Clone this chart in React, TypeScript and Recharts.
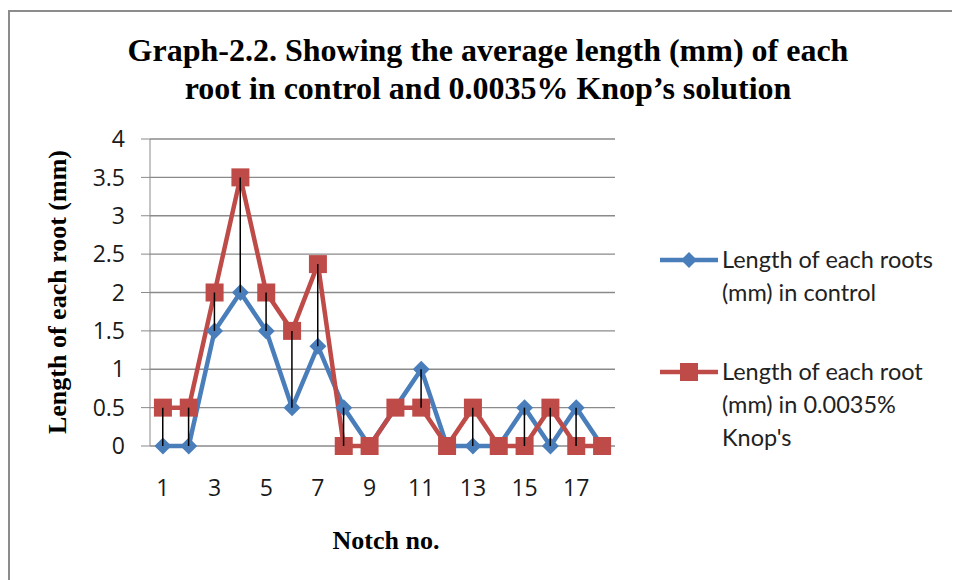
import { ComposedChart, Line, Bar, XAxis, YAxis, CartesianGrid } from "recharts";

const notches = ["1", "2", "3", "4", "5", "6", "7", "8", "9", "10", "11", "12", "13", "14", "15", "16", "17", "18"];
const controlLength = [0, 0, 1.5, 2, 1.5, 0.5, 1.3, 0.5, 0, 0.5, 1, 0, 0, 0, 0.5, 0, 0.5, 0];
const knopLength = [0.5, 0.5, 2, 3.5, 2, 1.5, 2.37, 0, 0, 0.5, 0.5, 0, 0.5, 0, 0, 0.5, 0, 0];
const yTicks = [0, 0.5, 1, 1.5, 2, 2.5, 3, 3.5, 4];

const BLUE = "#4a7ebb";
const RED = "#be4b48";
const serif = "'Liberation Serif', 'Times New Roman', serif";
const sans = "Lato, 'Liberation Sans', sans-serif";
const tickFont = "'Open Sans', Lato, sans-serif";

const data = notches.map((n, i) => ({
    notch: n,
    control: controlLength[i],
    knop: knopLength[i],
    hiLo: [Math.min(controlLength[i], knopLength[i]), Math.max(controlLength[i], knopLength[i])],
}));

function Diamond(props: any) {
    const { cx, cy, index } = props;
    const r = 8.5;
    return (
        <path
            key={"d" + index}
            d={`M${cx},${cy - r}L${cx + r},${cy}L${cx},${cy + r}L${cx - r},${cy}Z`}
            fill={BLUE}
        />
    );
}

function Square(props: any) {
    const { cx, cy, index } = props;
    const s = 9;
    return <rect key={"s" + index} x={cx - s} y={cy - s} width={s * 2} height={s * 2} fill={RED} />;
}

export default function App() {
    return (
        <div style={{ position: "relative", width: 952, height: 572, overflow: "hidden", background: "#fff" }}>
            <div
                style={{
                    position: "absolute",
                    left: 0,
                    top: 2,
                    width: 1000,
                    height: 1000,
                    border: "2px solid #8c8c8c",
                    boxSizing: "border-box",
                }}
            />
            <ComposedChart
                width={952}
                height={572}
                data={data}
                margin={{ top: 131, right: 345, bottom: 74, left: 82 }}
                style={{ position: "absolute", left: 0, top: 0 }}
            >
                <CartesianGrid vertical={false} stroke="#8a8a8a" strokeWidth={1.3} />
                <XAxis
                    dataKey="notch"
                    interval={1}
                    height={60}
                    axisLine={false}
                    tickLine={false}
                    tickSize={0}
                    tickMargin={34}
                    fontSize={23}
                    fontFamily={tickFont}
                    tick={{ fill: "#1a1a1a", fontSize: 23, fontFamily: tickFont }}
                />
                <YAxis
                    domain={[0, 4]}
                    ticks={yTicks}
                    width={60}
                    tickSize={9}
                    tickMargin={16}
                    stroke="#8a8a8a"
                    fontSize={23}
                    fontFamily={tickFont}
                    tick={{ fill: "#1a1a1a", fontSize: 23, fontFamily: tickFont }}
                />
                <Line
                    dataKey="control"
                    stroke={BLUE}
                    strokeWidth={4.5}
                    dot={Diamond}
                    activeDot={false}
                    isAnimationActive={false}
                />
                <Line
                    dataKey="knop"
                    stroke={RED}
                    strokeWidth={4.5}
                    dot={Square}
                    activeDot={false}
                    isAnimationActive={false}
                />
                <Bar dataKey="hiLo" barSize={1.5} fill="#000" isAnimationActive={false} zIndex={1500} />
            </ComposedChart>
            <svg width={952} height={572} style={{ position: "absolute", left: 0, top: 0, pointerEvents: "none" }}>
                <text x={480} y={53} textAnchor="middle" fontFamily={serif} fontWeight="bold" fontSize={32} fill="#000">
                    Graph-2.2. Showing the average length (mm) of each
                </text>
                <text x={480} y={91} textAnchor="middle" fontFamily={serif} fontWeight="bold" fontSize={32} fill="#000">
                    root in control and 0.0035% Knop’s solution
                </text>
                <text
                    x={49}
                    y={284}
                    transform="rotate(-90 49 284)"
                    textAnchor="middle"
                    dominantBaseline="central"
                    fontFamily={serif}
                    fontWeight="bold"
                    fontSize={26}
                    fill="#000"
                >
                    Length of each root (mm)
                </text>
                <text x={378} y={541} textAnchor="middle" fontFamily={serif} fontWeight="bold" fontSize={26} fill="#000">
                    Notch no.
                </text>
                <g>
                    <line x1={652} y1={252} x2={710} y2={252} stroke={BLUE} strokeWidth={4.5} />
                    <path d="M681,244L689,252L681,260L673,252Z" fill={BLUE} />
                    <text x={714} y={260} fontFamily={sans} fontSize={23.5} fill="#222">Length of each roots</text>
                    <text x={714} y={293} fontFamily={sans} fontSize={23.5} fill="#222">(mm) in control</text>
                </g>
                <g>
                    <line x1={652} y1={364} x2={710} y2={364} stroke={RED} strokeWidth={4.5} />
                    <rect x={672} y={355} width={18} height={18} fill={RED} />
                    <text x={714} y={372} fontFamily={sans} fontSize={23.5} fill="#222">Length of each root</text>
                    <text x={714} y={405} fontFamily={sans} fontSize={23.5} fill="#222">(mm) in 0.0035%</text>
                    <text x={714} y={438} fontFamily={sans} fontSize={23.5} fill="#222">Knop's</text>
                </g>
            </svg>
        </div>
    );
}
